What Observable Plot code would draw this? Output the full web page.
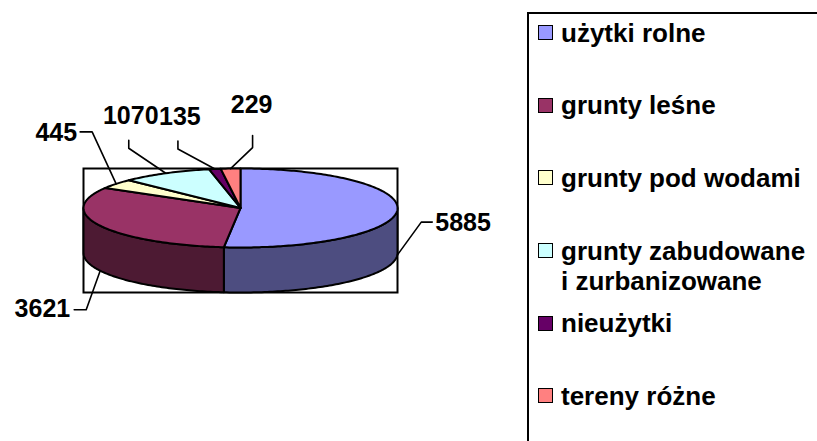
<!DOCTYPE html>
<html>
<head>
<meta charset="utf-8">
<script src="https://cdn.jsdelivr.net/npm/d3@7"></script>
<script src="https://cdn.jsdelivr.net/npm/@observablehq/plot@0.6"></script>
<style>
  body { margin: 0; background: #fff; }
  #wrap { position: relative; width: 817px; height: 441px; overflow: hidden;
          font-family: "Liberation Sans", Arial, sans-serif; }
  #chart svg { display: block; }
  #legend { position: absolute; left: 527px; top: 12px; width: 320px; height: 470px;
            border: 2px solid #000; box-sizing: border-box; padding: 3.5px 0 0 9px; background: #fff; }
  .item { height: 72.7px; display: flex; align-items: flex-start; }
  .sw { width: 13px; height: 13px; border: 1.5px solid #000; margin: 7.5px 8px 0 0; flex: none; }
  .lt { font-size: 26px; font-weight: bold; line-height: 30px; color: #000; }
</style>
</head>
<body>
<div id="wrap">
  <div id="chart"></div>
  <div id="legend"></div>
</div>
<script>
// ---- data ----
const categories = ["użytki rolne", "grunty leśne", "grunty pod wodami",
  "grunty zabudowane\ni zurbanizowane", "nieużytki", "tereny różne"];
const values = [5885, 3621, 445, 1070, 135, 229];
const valueLabels = ["5885", "3621", "445", "1070", "135", "229"];
const colors = ["#9999FF", "#993366", "#FFFFCC", "#CCFFFF", "#660066", "#FF8080"];

// ---- layout ----
const W = 817, H = 441;
const mL = 83, mR = 420, mT = 168, mB = 149;
const D = 1.14; // pie depth relative to vertical radius
const kx = (W - mL - mR) / 2;          // px per x unit
const ky = (H - mT - mB) / (2 + D);    // px per y unit
// label placement offsets (px) relative to the slice anchor
const labelLayout = [
  { elbow: [24, -33], end: [35, -33], text: [38, -32], anchor: "start" },
  { elbow: [-14, 39], end: [-26, 39], text: [-30, 38], anchor: "end" },
  { elbow: [-24, -52], end: [-36, -52], text: [-39, -51], anchor: "end" },
  { elbow: [-37, -25], end: [-37, -33], text: [-35, -57], anchor: "middle" },
  { elbow: [-37, -20], end: [-37, -28], text: [-35, -52], anchor: "middle" },
  { elbow: [22, -21], end: [22, -33], text: [21, -64], anchor: "middle" }
];

const total = d3.sum(values);
const darker = c => { const r = d3.rgb(c); return d3.rgb(r.r * 0.5, r.g * 0.5, r.b * 0.5).formatHex(); };
const pt = (a, z) => ({ x: Math.sin(a), y: Math.cos(a) - z * D });
const arc = (a0, a1, z) => {
  const n = Math.max(2, Math.ceil((a1 - a0) / (Math.PI / 180)));
  return d3.range(n + 1).map(i => pt(a0 + (a1 - a0) * i / n, z));
};

let acc = 0;
const slices = values.map((v, i) => {
  const a0 = acc / total * 2 * Math.PI;
  acc += v;
  const a1 = acc / total * 2 * Math.PI;
  return { i, v, a0, a1, color: colors[i], side: darker(colors[i]) };
});

const sideMarks = [], topMarks = [], leaderMarks = [], textMarks = [];
for (const s of slices) {
  const lo = Math.max(s.a0, Math.PI / 2), hi = Math.min(s.a1, 3 * Math.PI / 2);
  if (hi > lo) {
    const poly = [...arc(lo, hi, 0), ...arc(lo, hi, 1).reverse()];
    poly.push(poly[0]);
    sideMarks.push(Plot.line(poly, { x: "x", y: "y", fill: s.side, stroke: "#000", strokeWidth: 2, curve: "linear" }));
  }
  const top = [{ x: 0, y: 0 }, ...arc(s.a0, s.a1, 0), { x: 0, y: 0 }];
  topMarks.push(Plot.line(top, { x: "x", y: "y", fill: s.color, stroke: "#000", strokeWidth: 2, curve: "linear" }));

  const m = (s.a0 + s.a1) / 2;
  const anchor = pt(m, Math.cos(m) < 0 ? 1 : 0);
  const L = labelLayout[s.i];
  const off = p => ({ x: anchor.x + p[0] / kx, y: anchor.y - p[1] / ky });
  leaderMarks.push(Plot.line([anchor, off(L.elbow), off(L.end)],
    { x: "x", y: "y", stroke: "#000", strokeWidth: 1.6, curve: "linear" }));
  const tp = off(L.text);
  textMarks.push(Plot.text([{ ...tp, t: valueLabels[s.i] }],
    { x: "x", y: "y", text: "t", textAnchor: L.anchor, fontSize: 25, fontWeight: "bold", fill: "#000" }));
}

const chart = Plot.plot({
  width: W, height: H,
  marginLeft: mL, marginRight: mR, marginTop: mT, marginBottom: mB,
  x: { domain: [-1, 1], axis: null },
  y: { domain: [-1 - D, 1], axis: null },
  style: { fontFamily: "'Liberation Sans', Arial, sans-serif", background: "transparent", overflow: "visible" },
  marks: [
    Plot.frame({ stroke: "#000", strokeWidth: 2 }),
    ...sideMarks,
    ...topMarks,
    ...leaderMarks,
    ...textMarks
  ]
});
document.getElementById("chart").appendChild(chart);

// ---- legend ----
const legend = d3.select("#legend");
categories.forEach((c, i) => {
  const it = legend.append("div").attr("class", "item");
  it.append("div").attr("class", "sw").style("background", colors[i]);
  const t = it.append("div").attr("class", "lt");
  c.split("\n").forEach(line => t.append("div").text(line));
});
</script>
</body>
</html>
